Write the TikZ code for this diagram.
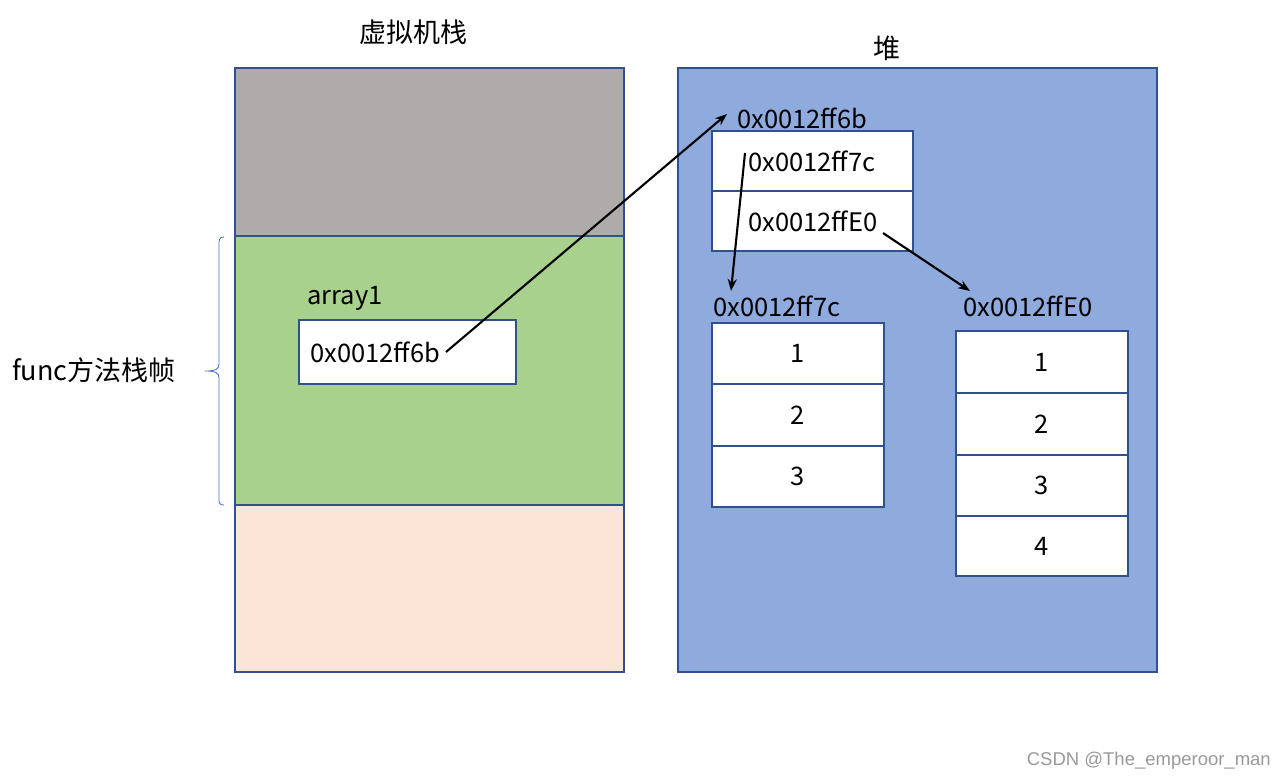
\documentclass[tikz,border=0pt]{standalone}
\usepackage{fontspec}
\setmainfont{Noto Sans CJK SC}
\newfontfamily\wmfont{Liberation Sans}
\usetikzlibrary{arrows.meta}
\definecolor{edgeblue}{HTML}{2F528F}
\definecolor{bracec}{HTML}{4472C4}
\definecolor{grayc}{HTML}{AFABAB}
\definecolor{greenc}{HTML}{A9D18E}
\definecolor{peachc}{HTML}{FBE5D6}
\definecolor{heapc}{HTML}{8FAADC}
\tikzset{
  region/.style={draw=edgeblue, line width=1.2pt, inner sep=0pt, outer sep=0pt, anchor=north west},
  cell/.style={draw=edgeblue, fill=white, line width=1.2pt, inner sep=0pt, outer sep=0pt, anchor=north west},
  txt/.style={font=\fontsize{25.5}{28}\selectfont, inner sep=0pt, text=black},
  ttl/.style={font=\fontsize{27}{30}\selectfont, inner sep=0pt, text=black},
  ptr/.style={-{Stealth[length=12pt,width=9pt]}, line width=2.1pt, black},
}
\begin{document}
\begin{tikzpicture}[x=1pt,y=-1pt]
\useasboundingbox (0,0) rectangle (1286,781);
% titles
\node[ttl] (t1) at (413,32) {虚拟机栈};
\node[ttl] (t2) at (887,48) {堆};
% stack
\node[region, fill=grayc, minimum width=389pt, minimum height=168pt] (sg) at (235,68) {};
\node[region, fill=greenc, minimum width=389pt, minimum height=269pt] (sf) at (235,236) {};
\node[region, fill=peachc, minimum width=389pt, minimum height=167pt] (sp) at (235,505) {};
% brace
\draw[bracec, line width=0.8pt] (224,237) .. controls (219,237) and (219,240) .. (219,246) -- (219,364) .. controls (219,369) and (216,371) .. (205,371) .. controls (216,371) and (219,373) .. (219,378) -- (219,497) .. controls (219,503) and (219,505) .. (224,505);
\node[ttl, anchor=west] (fl) at (12,370) {func方法栈帧};
\node[txt, anchor=west] (al) at (307,298) {array1};
\node[cell, minimum width=217pt, minimum height=64pt] (ab) at (299,320) {};
\node[txt, anchor=west] (at) at (310,352) {0x0012ff6b};
% heap
\node[region, fill=heapc, minimum width=479pt, minimum height=604pt] (hp) at (678,68) {};
\node[txt, anchor=west] (hl) at (737,118) {0x0012ff6b};
\node[cell, minimum width=201pt, minimum height=60pt] (h1) at (712,131) {};
\node[cell, minimum width=201pt, minimum height=60pt] (h2) at (712,191) {};
\node[txt, anchor=west] (h1t) at (748,161) {0x0012ff7c};
\node[txt, anchor=west] (h2t) at (748,221) {0x0012ffE0};
% array a
\node[txt, anchor=west] (la) at (713,306) {0x0012ff7c};
\node[cell, minimum width=172pt, minimum height=61pt] (a1) at (712,323) {};
\node[cell, minimum width=172pt, minimum height=62pt] (a2) at (712,384) {};
\node[cell, minimum width=172pt, minimum height=61pt] (a3) at (712,446) {};
\node[txt] at (a1.center) {1};
\node[txt] at (a2.center) {2};
\node[txt] at (a3.center) {3};
% array b
\node[txt, anchor=west] (lb) at (963,306) {0x0012ffE0};
\node[cell, minimum width=172pt, minimum height=62pt] (b1) at (956,331) {};
\node[cell, minimum width=172pt, minimum height=62pt] (b2) at (956,393) {};
\node[cell, minimum width=172pt, minimum height=61pt] (b3) at (956,455) {};
\node[cell, minimum width=172pt, minimum height=60pt] (b4) at (956,516) {};
\node[txt] at (b1.center) {1};
\node[txt] at (b2.center) {2};
\node[txt] at (b3.center) {3};
\node[txt] at (b4.center) {4};
% arrows
\coordinate (s1) at (446,352);
\coordinate (e1) at (727,114);
\coordinate (s2) at (745,153);
\coordinate (e2) at (731,291);
\coordinate (s3) at (883,233);
\coordinate (e3) at (970,291);
\draw[ptr] (s1) -- (e1);
\draw[ptr] (s2) -- (e2);
\draw[ptr] (s3) -- (e3);
% watermark
\node[font=\wmfont\fontsize{18.5}{20}\selectfont, text=black!40, anchor=east, inner sep=0pt] (wm) at (1271,761) {CSDN @The\_emperoor\_man};
\end{tikzpicture}
\end{document}
